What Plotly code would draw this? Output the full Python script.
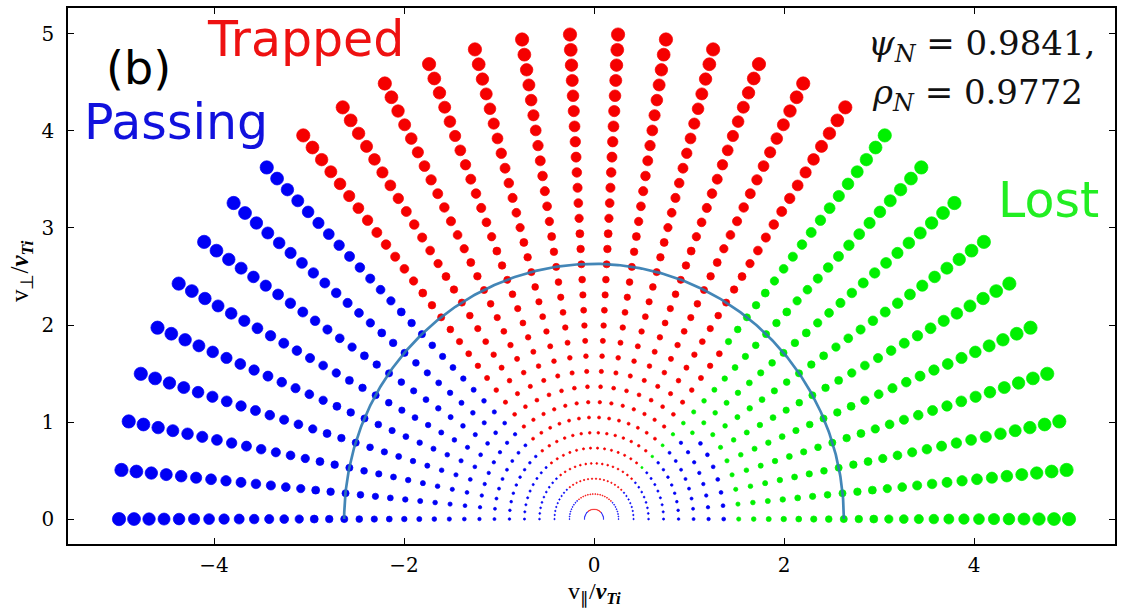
import numpy as np
import plotly.graph_objects as go

# Speed grid (units of v_Ti) and pitch-angle rays (degrees from +v_parallel)
speeds = [0.100, 0.258, 0.416, 0.574, 0.732, 0.890, 1.048, 1.206,
          1.365, 1.523, 1.681, 1.839, 1.997, 2.155, 2.313, 2.471,
          2.629, 2.787, 2.945, 3.103, 3.261, 3.419, 3.577, 3.735,
          3.894, 4.052, 4.210, 4.368, 4.526, 4.684, 4.842, 5.000]
angles_deg = [0.00, 5.81, 11.61, 17.42, 23.23, 29.03, 34.84, 40.65,
              46.45, 52.26, 58.06, 63.87, 69.68, 75.48, 81.29, 87.10,
              92.90, 98.71, 104.52, 110.32, 116.13, 121.94, 127.74, 133.55,
              139.35, 145.16, 150.97, 156.77, 162.58, 168.39, 174.19, 180.00]

# Orbit class per speed shell (one character per ray, ray 0 = +v_parallel):
# P = passing, T = trapped, L = lost
orbit_class = [
    "PPPPPPPPTTTTTTTTTTTTTTTPPPPPPPPP",  # 0.100
    "PPPPPPPPTTTTTTTTTTTTTTTPPPPPPPPP",  # 0.258
    "PPPPPPPPTTTTTTTTTTTTTTTPPPPPPPPP",  # 0.416
    "PPPPPPPPTTTTTTTTTTTTTTTPPPPPPPPP",  # 0.574
    "PPPPPPPPLTTTTTTTTTTTTTTPPPPPPPPP",  # 0.732
    "PPPPPPPPLTTTTTTTTTTTTTTPPPPPPPPP",  # 0.890
    "PPPPPPPPLTTTTTTTTTTTTTTPPPPPPPPP",  # 1.048
    "PPPPPPPPLTTTTTTTTTTTTTTPPPPPPPPP",  # 1.206
    "PPPPPPPLLTTTTTTTTTTTTTTPPPPPPPPP",  # 1.365
    "LLLLLLLLLTTTTTTTTTTTTTTPPPPPPPPP",  # 1.523
    "LLLLLLLLLTTTTTTTTTTTTTTPPPPPPPPP",  # 1.681
    "LLLLLLLLLTTTTTTTTTTTTTTPPPPPPPPP",  # 1.839
    "LLLLLLLLLTTTTTTTTTTTTTTPPPPPPPPP",  # 1.997
    "LLLLLLLLLTTTTTTTTTTTTTTPPPPPPPPP",  # 2.155
    "LLLLLLLLLLTTTTTTTTTTTTTPPPPPPPPP",  # 2.313
    "LLLLLLLLLLTTTTTTTTTTTTTPPPPPPPPP",  # 2.471
    "LLLLLLLLLLTTTTTTTTTTTTTPPPPPPPPP",  # 2.629
    "LLLLLLLLLLTTTTTTTTTTTTTPPPPPPPPP",  # 2.787
    "LLLLLLLLLLTTTTTTTTTTTTTPPPPPPPPP",  # 2.945
    "LLLLLLLLLLTTTTTTTTTTTTTPPPPPPPPP",  # 3.103
    "LLLLLLLLLLTTTTTTTTTTTTTPPPPPPPPP",  # 3.261
    "LLLLLLLLLLTTTTTTTTTTTTTPPPPPPPPP",  # 3.419
    "LLLLLLLLLLTTTTTTTTTTTTTPPPPPPPPP",  # 3.577
    "LLLLLLLLLLTTTTTTTTTTTTTPPPPPPPPP",  # 3.735
    "LLLLLLLLLLTTTTTTTTTTTTTPPPPPPPPP",  # 3.894
    "LLLLLLLLLLTTTTTTTTTTTTTPPPPPPPPP",  # 4.052
    "LLLLLLLLLLTTTTTTTTTTTTTPPPPPPPPP",  # 4.210
    "LLLLLLLLLLTTTTTTTTTTTTTPPPPPPPPP",  # 4.368
    "LLLLLLLLLLTTTTTTTTTTTTTPPPPPPPPP",  # 4.526
    "LLLLLLLLLLTTTTTTTTTTTTTPPPPPPPPP",  # 4.684
    "LLLLLLLLLLTTTTTTTTTTTTTPPPPPPPPP",  # 4.842
    "LLLLLLLLLLTTTTTTTTTTTTTPPPPPPPPP",  # 5.000
]
assert len(orbit_class) == len(speeds)
assert all(len(row) == len(angles_deg) for row in orbit_class)

# Loss boundary speed drawn as a semicircle
boundary_speed = 2.63

class_colors = {"P": "#0000f5", "T": "#f50000", "L": "#00f000"}

fig = go.Figure()

th = np.radians(angles_deg)
for cls, color in class_colors.items():
    xs, ys, sz = [], [], []
    for r, row in zip(speeds, orbit_class):
        for t, c in zip(th, row):
            if c == cls:
                xs.append(r * np.cos(t))
                ys.append(r * np.sin(t))
                sz.append(2.6 * r + 0.3)
    fig.add_trace(go.Scatter(
        x=xs, y=ys, mode="markers",
        marker=dict(size=sz, color=color, opacity=1,
                    line=dict(width=0.7, color=color)),
        showlegend=False, hoverinfo="skip"))

arc = np.linspace(0, np.pi, 361)
fig.add_trace(go.Scatter(
    x=boundary_speed * np.cos(arc), y=boundary_speed * np.sin(arc),
    mode="lines", line=dict(color="#2f7ab0", width=2.7),
    opacity=0.9, showlegend=False, hoverinfo="skip"))

# plot-area geometry in pixels
L, R, T, B = 68, 1115, 6, 544
W, H = 1124, 610


def px(xp):
    return (xp - L) / (R - L)


def py(yp):
    return (B - yp) / (B - T)


sans = "DejaVu Sans"
serif = "DejaVu Serif"

notes = [
    dict(text="(b)", x=px(104), y=py(66), color="black", size=46, family=sans),
    dict(text="Trapped", x=px(205), y=py(38), color="#ee1111", size=49, family=sans),
    dict(text="Passing", x=px(82), y=py(121), color="#1111dd", size=49, family=sans),
    dict(text="Lost", x=px(996), y=py(199), color="#22ee22", size=49, family=sans),
    dict(text="<i>ψ</i><sub><i>N</i></sub> = 0.9841,", x=px(866), y=py(44),
         color="#111111", size=34, family=serif),
    dict(text="<i>ρ</i><sub><i>N</i></sub> = 0.9772", x=px(870), y=py(93),
         color="#111111", size=34, family=serif),
]
for n in notes:
    fig.add_annotation(text=n["text"], x=n["x"], y=n["y"], xref="paper", yref="paper",
                       xanchor="left", yanchor="middle", showarrow=False,
                       font=dict(family=n["family"], size=n["size"], color=n["color"]))

fig.add_annotation(text="v<sub>∥</sub>/<b><i>v<sub>Ti</sub></i></b>", x=px(594), y=py(593),
                   xref="paper", yref="paper", xanchor="center", yanchor="middle",
                   showarrow=False, font=dict(family="Liberation Serif", size=24, color="black"))
fig.add_annotation(text="v<sub>⊥</sub>/<b><i>v<sub>Ti</sub></i></b>", x=px(21), y=py(270),
                   xref="paper", yref="paper", xanchor="center", yanchor="middle",
                   textangle=-90, showarrow=False,
                   font=dict(family="Liberation Serif", size=25, color="black"))

axis_common = dict(showline=True, linecolor="black", linewidth=1.5, mirror="ticks",
                   ticks="inside", ticklen=6, tickwidth=1, tickcolor="black",
                   showgrid=False, zeroline=False,
                   tickfont=dict(family=serif, size=20, color="black"))

fig.update_layout(
    width=W, height=H,
    margin=dict(l=L, r=W - R, t=T, b=H - B),
    plot_bgcolor="white", paper_bgcolor="white",
    xaxis=dict(range=[-5.537, 5.484], tickvals=[-4, -2, 0, 2, 4],
               ticktext=["−4", "−2", "0", "2", "4"], ticklabelstandoff=2,
               **axis_common),
    yaxis=dict(range=[-0.257, 5.267], tickvals=[0, 1, 2, 3, 4, 5],
               ticklabelstandoff=8, **axis_common),
)

fig.write_html("out.html")
